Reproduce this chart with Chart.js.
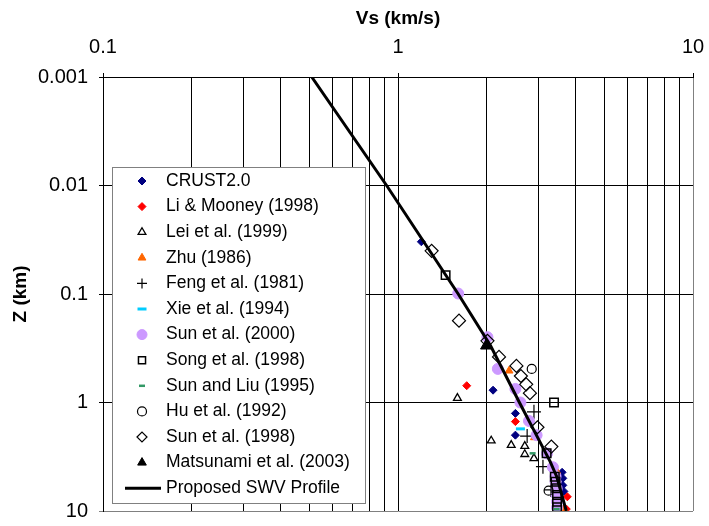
<!DOCTYPE html>
<html>
<head>
<meta charset="utf-8">
<title>Vs profile</title>
<script src="https://cdn.jsdelivr.net/npm/chart.js@4.4.1/dist/chart.umd.min.js"></script>
<style>
  body { margin: 0; background: #fff; }
  #swv-chart { display: block; }
</style>
</head>
<body>
<canvas id="swv-chart" width="709" height="526"></canvas>
<script>
// shear-wave velocity Vs (km/s) against depth Z (km), one pair of arrays per source
var crustVs = [1.2, 2.1, 2.5, 2.5, 3.6, 3.62, 3.62, 3.65];
var crustZ  = [0.033, 0.77, 1.26, 2.0, 4.4, 5.0, 5.8, 6.6];

var liVs = [1.71, 2.5, 3.75, 3.72];
var liZ  = [0.70, 1.5, 7.4, 9.6];

var leiVs = [1.59, 2.07, 2.42, 2.69, 2.69, 2.89];
var leiZ  = [0.91, 2.25, 2.47, 2.52, 3.0, 3.27];

var zhuVs = [2.38, 2.9, 3.45, 3.65];
var zhuZ  = [0.51, 2.1, 4.3, 9.5];

var fengVs = [2.89, 2.74, 3.1, 3.3];
var fengZ  = [1.22, 2.04, 3.9, 6.4];

var xieVs = [2.6];
var xieZ  = [1.75];

var sun2000Vs = [1.6, 2.01, 2.18, 2.5, 2.6, 2.78, 2.95, 3.2, 3.35, 3.42, 3.42, 3.45, 3.45, 3.46, 3.46];
var sun2000Z  = [0.099, 0.25, 0.49, 0.75, 1.0, 1.48, 2.0, 2.95, 3.95, 4.8, 5.4, 6.2, 7.1, 8.2, 9.3];

var songVs = [1.45, 3.38, 3.19, 3.40, 3.42, 3.44, 3.46, 3.46, 3.46];
var songZ  = [0.067, 1.0, 2.94, 4.83, 5.37, 6.18, 7.13, 8.21, 9.25];

var sunLiuVs = [2.86, 3.45];
var sunLiuZ  = [2.94, 9.6];

var huVs = [2.84, 3.24];
var huZ  = [0.49, 6.5];

var sun1998Vs = [1.30, 1.61, 2.01, 2.2, 2.52, 2.61, 2.72, 2.80, 2.97, 3.31];
var sun1998Z  = [0.040, 0.176, 0.27, 0.38, 0.46, 0.57, 0.68, 0.82, 1.69, 2.55];

var matsVs = [1.99];
var matsZ  = [0.30];

// proposed shear-wave velocity profile
var swvVs = [0.51, 0.915, 1.6, 2.06, 2.58, 3.0, 3.28, 3.45, 3.72];
var swvZ  = [0.001, 0.01, 0.1, 0.3, 1, 2.2, 3.5, 4.8, 10];

var vsTicks = [0.1, 0.2, 0.3, 0.4, 0.5, 0.6, 0.7, 0.8, 0.9, 1, 2, 3, 4, 5, 6, 7, 8, 9, 10];
var zTicks = [0.001, 0.01, 0.1, 1, 10];

var FONT = '"Liberation Sans", Arial, sans-serif';
var NONE = 'rgba(0,0,0,0)';

function pairs(vs, z) {
    var pts = [];
    for (var i = 0; i < vs.length; i++) {
        pts.push({x: vs[i], y: z[i]});
    }
    return pts;
}

function series(label, vs, z, style) {
    var ds = {
        label: label,
        data: pairs(vs, z),
        showLine: false
    };
    for (var k in style) ds[k] = style[k];
    return ds;
}

function isDecade(v) {
    var l = Math.log10(v);
    return Math.abs(l - Math.round(l)) < 1e-9;
}

var datasets = [
    series('CRUST2.0', crustVs, crustZ, {pointStyle: 'rectRot', pointRadius: 4, backgroundColor: '#000080', borderColor: '#000080', borderWidth: 1}),
    series('Li & Mooney (1998)', liVs, liZ, {pointStyle: 'rectRot', pointRadius: 4, backgroundColor: '#ff0000', borderColor: '#ff0000', borderWidth: 1}),
    series('Lei et al. (1999)', leiVs, leiZ, {pointStyle: 'triangle', pointRadius: 4.5, backgroundColor: '#fff', borderColor: '#000', borderWidth: 1.3}),
    series('Zhu (1986)', zhuVs, zhuZ, {pointStyle: 'triangle', pointRadius: 4.5, backgroundColor: '#ff6600', borderColor: '#ff6600', borderWidth: 1}),
    series('Feng et al. (1981)', fengVs, fengZ, {pointStyle: 'cross', pointRadius: 7, backgroundColor: NONE, borderColor: '#000', borderWidth: 1.2}),
    series('Xie et al. (1994)', xieVs, xieZ, {pointStyle: 'line', pointRadius: 4.5, backgroundColor: NONE, borderColor: '#00ccff', borderWidth: 3}),
    series('Sun et al. (2000)', sun2000Vs, sun2000Z, {pointStyle: 'circle', pointRadius: 5.5, backgroundColor: '#cc99ff', borderColor: '#cc99ff', borderWidth: 1}),
    series('Song et al. (1998)', songVs, songZ, {pointStyle: 'rect', pointRadius: 6, backgroundColor: NONE, borderColor: '#000', borderWidth: 1.5}),
    series('Sun and Liu (1995)', sunLiuVs, sunLiuZ, {pointStyle: 'line', pointRadius: 3, backgroundColor: NONE, borderColor: '#339966', borderWidth: 2.5}),
    series('Hu et al. (1992)', huVs, huZ, {pointStyle: 'circle', pointRadius: 4.5, backgroundColor: NONE, borderColor: '#000', borderWidth: 1.2}),
    series('Sun et al. (1998)', sun1998Vs, sun1998Z, {pointStyle: 'rectRot', pointRadius: 6.5, backgroundColor: NONE, borderColor: '#000', borderWidth: 1.2}),
    series('Matsunami et al. (2003)', matsVs, matsZ, {pointStyle: 'triangle', pointRadius: 6.5, backgroundColor: '#000', borderColor: '#000', borderWidth: 1}),
    series('Proposed SWV Profile', swvVs, swvZ, {showLine: true, pointRadius: 0, borderColor: '#000', backgroundColor: '#000', borderWidth: 3, tension: 0, fill: false})
];

// later series are drawn on top of earlier ones
for (var i = 0; i < datasets.length; i++) {
    datasets[i].order = datasets.length - 1 - i;
}

// boxed legend sitting inside the plot, lower left
var boxLegend = {
    id: 'boxLegend',
    afterDatasetsDraw: function(chart) {
        var ctx = chart.ctx;
        var area = chart.chartArea;
        var left = area.left + 9, top = area.top + 90, w = 253, h = 336, rowH = 25.6;
        ctx.save();
        ctx.fillStyle = '#fff';
        ctx.fillRect(left, top, w, h);
        ctx.strokeStyle = '#808080';
        ctx.lineWidth = 1;
        ctx.strokeRect(left + 0.5, top + 0.5, w, h);
        ctx.font = '17.5px ' + FONT;
        ctx.textBaseline = 'middle';
        chart.data.datasets.forEach(function(ds, i) {
            var cy = top + 14 + i * rowH;
            var cx = left + 30;
            if (ds.showLine) {
                ctx.strokeStyle = ds.borderColor;
                ctx.lineWidth = ds.borderWidth;
                ctx.beginPath();
                ctx.moveTo(left + 13, cy);
                ctx.lineTo(left + 49, cy);
                ctx.stroke();
            } else {
                ctx.fillStyle = ds.backgroundColor;
                ctx.strokeStyle = ds.borderColor;
                ctx.lineWidth = ds.borderWidth;
                Chart.helpers.drawPoint(ctx, {
                    pointStyle: ds.pointStyle,
                    radius: Math.min(ds.pointRadius, 5),
                    rotation: 0,
                    borderWidth: ds.borderWidth
                }, cx, cy);
            }
            ctx.fillStyle = '#000';
            ctx.fillText(ds.label, left + 54, cy);
        });
        ctx.restore();
    }
};

var ctx = document.getElementById('swv-chart').getContext('2d');
var swvChart = new Chart(ctx, {
    type: 'scatter',
    data: {datasets: datasets},
    plugins: [boxLegend],
    options: {
        responsive: false,
        animation: false,
        events: [],
        layout: {padding: {left: 0, top: 0, right: 16, bottom: 15}},
        plugins: {
            legend: {display: false},
            tooltip: {enabled: false}
        },
        scales: {
            x: {
                type: 'logarithmic',
                position: 'top',
                min: 0.1,
                max: 10,
                afterBuildTicks: function(scale) {
                    scale.ticks = vsTicks.map(function(v) { return {value: v}; });
                },
                afterFit: function(scale) {
                    scale.height = 77;
                    scale.paddingLeft = 0;
                    scale.paddingRight = 0;
                },
                title: {
                    display: true,
                    text: 'Vs (km/s)',
                    color: '#000',
                    padding: {top: 7, bottom: 0},
                    font: {family: FONT, size: 19, weight: 'bold'}
                },
                ticks: {
                    autoSkip: false,
                    maxRotation: 0,
                    padding: 14,
                    color: '#000',
                    font: {family: FONT, size: 20},
                    callback: function(v) { return isDecade(v) ? String(v) : ''; }
                },
                grid: {
                    color: function(c) { return c.tick && c.tick.value === 10 ? '#808080' : '#000'; },
                    tickColor: function(c) { return c.tick && isDecade(c.tick.value) ? '#000' : NONE; },
                    tickLength: 4,
                    lineWidth: 1
                },
                border: {color: '#000', width: 1}
            },
            y: {
                type: 'logarithmic',
                position: 'left',
                reverse: true,
                min: 0.001,
                max: 10,
                afterBuildTicks: function(scale) {
                    scale.ticks = zTicks.map(function(v) { return {value: v}; });
                },
                afterFit: function(scale) {
                    scale.width = 103;
                    scale.paddingTop = 0;
                    scale.paddingBottom = 0;
                },
                title: {
                    display: true,
                    text: 'Z (km)',
                    color: '#000',
                    padding: {top: 9, bottom: 0},
                    font: {family: FONT, size: 19, weight: 'bold'}
                },
                ticks: {
                    padding: 11,
                    color: '#000',
                    font: {family: FONT, size: 20},
                    callback: function(v) { return String(v); }
                },
                grid: {
                    color: function(c) { return c.tick && c.tick.value === 10 ? '#808080' : '#000'; },
                    tickLength: 4,
                    lineWidth: 1
                },
                border: {color: '#000', width: 1}
            }
        }
    }
});
</script>
</body>
</html>
